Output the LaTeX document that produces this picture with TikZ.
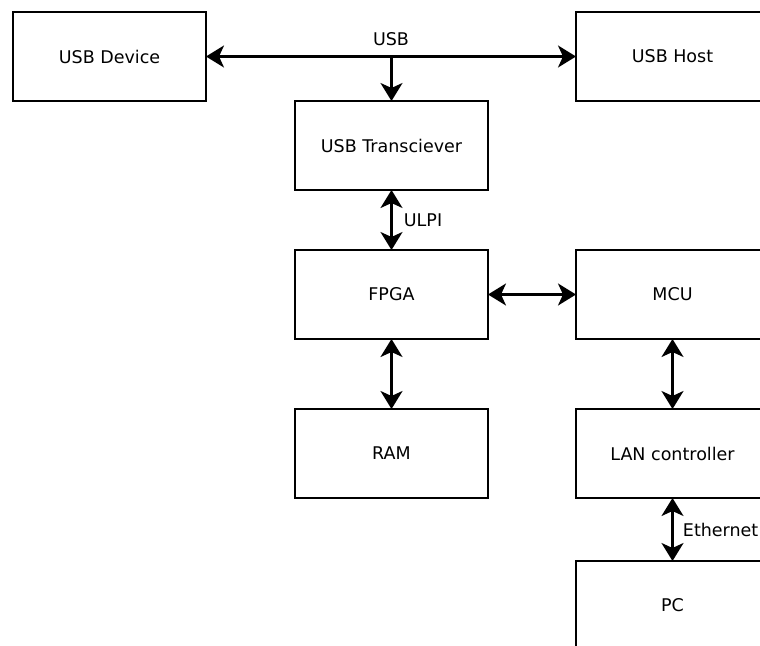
\documentclass[tikz,border=0pt]{standalone}
\usepackage{fontspec}
\setmainfont{DejaVu Sans}
\usetikzlibrary{arrows.meta,positioning}

\begin{document}
\begin{tikzpicture}[x=1pt, y=1pt, node distance=89pt, line width=2.2pt,
    block/.style={rectangle, draw, minimum width=193pt, minimum height=89pt, inner sep=0pt, outer sep=0pt},
    tip/.style={-{Stealth[length=18pt, width=22pt, inset=5pt]}},
    link/.style={{Stealth[length=18pt, width=22pt, inset=5pt]}-{Stealth[length=18pt, width=22pt, inset=5pt]}},
    every node/.style={font=\fontsize{17.5}{21}\selectfont}]
    \useasboundingbox (0,0) rectangle (760,-645);
    \clip (0,0) rectangle (760,-645);

    \node[block] (device) at (109.5,-56.5) {USB Device};
    \node[block, below right=0pt and 89pt of device] (trans) {USB Transciever};
    \node[block, above right=0pt and 88pt of trans] (host) {USB Host};

    \node[block, below=60pt of trans] (fpga) {FPGA};
    \node[block, right=88pt of fpga] (mcu) {MCU};
    \node[block, below=70pt of fpga] (ram) {RAM};
    \node[block, below=70pt of mcu] (lan) {LAN controller};
    \node[block, below=63pt of lan] (pc) {PC};

    % USB bus
    \coordinate (bus) at (trans.north |- device.east);
    \draw[link] (device.east) -- node[above=6pt] {USB} (host.west);
    \draw[tip] (bus) -- (trans.north);

    \draw[link] (trans.south) -- node[right=8pt] {ULPI} (fpga.north);
    \draw[link] (fpga.east) -- (mcu.west);
    \draw[link] (fpga.south) -- (ram.north);
    \draw[link] (mcu.south) -- (lan.north);
    \draw[link] (lan.south) -- node[right=6pt] {Ethernet} (pc.north);
\end{tikzpicture}
\end{document}
